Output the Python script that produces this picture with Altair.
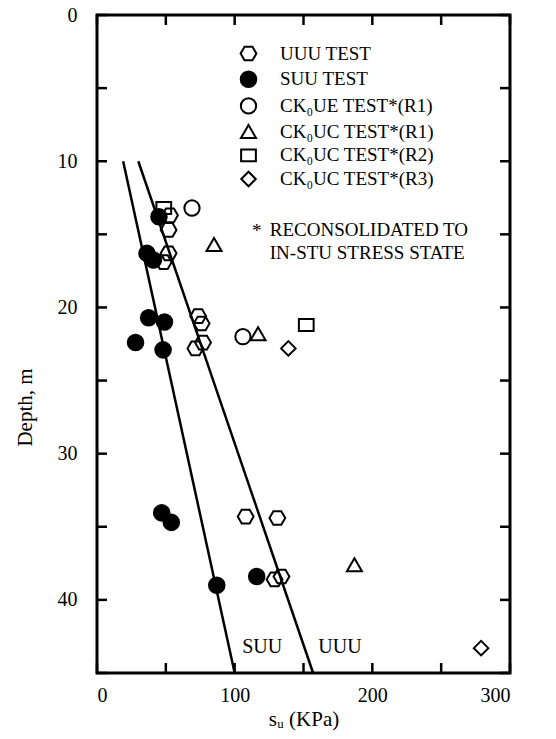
import altair as alt
import pandas as pd

# ---------------- data ----------------
tests = ["UUU TEST", "SUU TEST", "CK₀UE TEST*(R1)", "CK₀UC TEST*(R1)",
         "CK₀UC TEST*(R2)", "CK₀UC TEST*(R3)"]

uuu_s = [53, 52, 52, 48.5, 73.5, 76, 71.5, 77, 108, 131, 129, 134]
uuu_d = [13.7, 14.7, 16.3, 16.9, 20.6, 21.1, 22.8, 22.4, 34.3, 34.4, 38.6, 38.4]
suu_s = [45, 36.3, 41, 37.5, 49, 28, 48, 47, 54, 87, 116]
suu_d = [13.8, 16.3, 16.75, 20.7, 21.0, 22.4, 22.9, 34.05, 34.7, 39.0, 38.4]
ue_r1_s = [69, 106]
ue_r1_d = [13.2, 22.0]
uc_r1_s = [85, 117, 187]
uc_r1_d = [15.7, 21.8, 37.6]
uc_r2_s = [48.5, 152]
uc_r2_d = [13.2, 21.2]
uc_r3_s = [139, 279]
uc_r3_d = [22.8, 43.3]

line_names = ["SUU", "UUU"]
line_s = [[19, 100], [30, 157]]
line_d = [[10, 45], [10, 45]]

label_text = ["SUU", "UUU"]
label_s = [120, 176.5]
label_d = [43.2, 43.2]

note_text = ["RECONSOLIDATED TO", "IN-STU STRESS STATE"]
note_s = [125.5, 125.5]
note_d = [14.7, 16.3]
star_s = [116]
star_d = [14.75]

x_ticks = [0, 50, 100, 150, 200, 250, 300]
y_ticks = [0, 5, 10, 15, 20, 25, 30, 35, 40, 45]
x_labels = [0, 100, 200, 300]
y_labels = [0, 10, 20, 30, 40]

# ---------------- tables ----------------
series = [(tests[0], uuu_s, uuu_d), (tests[1], suu_s, suu_d),
          (tests[2], ue_r1_s, ue_r1_d), (tests[3], uc_r1_s, uc_r1_d),
          (tests[4], uc_r2_s, uc_r2_d), (tests[5], uc_r3_s, uc_r3_d)]
rows = []
for name, xs, ds in series:
    for s, d in zip(xs, ds):
        rows.append({"s": s, "depth": d, "test": name})
pts = pd.DataFrame(rows)

lrows = []
for name, xs, ds in zip(line_names, line_s, line_d):
    for s, d in zip(xs, ds):
        lrows.append({"s": s, "depth": d, "line": name})
lines_df = pd.DataFrame(lrows)

labels_df = pd.DataFrame({"s": label_s, "depth": label_d, "txt": label_text})
note_df = pd.DataFrame({"s": note_s, "depth": note_d, "txt": note_text})
star_df = pd.DataFrame({"s": star_s, "depth": star_d, "txt": ["*"]})
xt_df = pd.DataFrame({"s": x_ticks})
yt_df = pd.DataFrame({"depth": y_ticks})

W, H = 413, 658
FONT = "'Liberation Serif', 'Times New Roman', serif"

hexagon = "M-1,0L-0.5,-0.866L0.5,-0.866L1,0L0.5,0.866L-0.5,0.866Z"
rect = "M-1,-0.8L1,-0.8L1,0.8L-1,0.8Z"

xscale = alt.Scale(domain=[0, 300], nice=False)
yscale = alt.Scale(domain=[0, 45], reverse=True, nice=False)

xaxis = alt.Axis(values=x_labels, tickSize=0, domain=False, grid=False,
                 labelPadding=12, title="sᵤ (KPa)", titleBaseline="middle",
                 titleY=46)
yaxis = alt.Axis(values=y_labels, tickSize=0, domain=False, grid=False,
                 labelPadding=20, title="Depth, m", titleX=-72, titleY=392,
                 titleBaseline="middle", titleAlign="center")

leg = alt.Legend(title=None, orient="none", legendX=142, legendY=29,
                 labelFont=FONT, labelFontSize=19, labelColor="black",
                 rowPadding=1.7, labelOffset=22, padding=0,
                 symbolStrokeWidth=2)

points = alt.Chart(pts).mark_point(filled=False, strokeWidth=2, opacity=1).encode(
    x=alt.X("s:Q", scale=xscale, axis=xaxis),
    y=alt.Y("depth:Q", scale=yscale, axis=yaxis),
    shape=alt.Shape("test:N", scale=alt.Scale(
        domain=tests, range=[hexagon, "circle", "circle", "triangle-up", rect, "diamond"]),
        legend=leg),
    fill=alt.Fill("test:N", scale=alt.Scale(
        domain=tests, range=["transparent", "black", "transparent", "transparent",
                             "transparent", "transparent"]), legend=leg),
    stroke=alt.Stroke("test:N", scale=alt.Scale(
        domain=tests, range=["black"] * 6), legend=leg),
    size=alt.Size("test:N", scale=alt.Scale(
        domain=tests, range=[250, 210, 175, 150, 200, 210]), legend=leg),
)

lines = alt.Chart(lines_df).mark_line(color="black", strokeWidth=2.5).encode(
    x="s:Q", y="depth:Q", detail="line:N")

labels = alt.Chart(labels_df).mark_text(font=FONT, fontSize=20, color="black",
                                         align="center", baseline="middle").encode(
    x="s:Q", y="depth:Q", text="txt:N")

notes = alt.Chart(note_df).mark_text(font=FONT, fontSize=19, color="black",
                                      align="left", baseline="middle").encode(
    x="s:Q", y="depth:Q", text="txt:N")

star = alt.Chart(star_df).mark_text(font=FONT, fontSize=19, color="black",
                                     align="center", baseline="middle").encode(
    x="s:Q", y="depth:Q", text="txt:N")

tick_len = 10
bottom_t = alt.Chart(xt_df).mark_rule(color="black", strokeWidth=2.5).encode(
    x="s:Q", y=alt.value(H), y2=alt.value(H - tick_len))
top_t = alt.Chart(xt_df).mark_rule(color="black", strokeWidth=2.5).encode(
    x="s:Q", y=alt.value(0), y2=alt.value(tick_len))
left_t = alt.Chart(yt_df).mark_rule(color="black", strokeWidth=2.5).encode(
    y="depth:Q", x=alt.value(0), x2=alt.value(tick_len))
right_t = alt.Chart(yt_df).mark_rule(color="black", strokeWidth=2.5).encode(
    y="depth:Q", x=alt.value(W - tick_len), x2=alt.value(W))

chart = alt.layer(points, lines, labels, notes, star,
                  bottom_t, top_t, left_t, right_t).properties(
    width=W, height=H,
    autosize=alt.AutoSizeParams(type="none"),
    padding={"left": 97, "top": 15, "right": 46, "bottom": 66},
    background="white",
).configure_view(stroke="black", strokeWidth=3).configure_axis(
    labelFont=FONT, labelFontSize=20, labelColor="black",
    titleFont=FONT, titleFontSize=21, titleColor="black", titleFontWeight="normal",
)

chart.save("out.html", embed_options={"renderer": "svg", "actions": False})
